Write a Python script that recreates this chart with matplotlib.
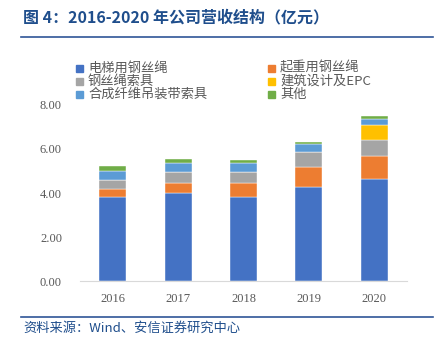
import matplotlib.pyplot as plt
import numpy as np

plt.rcParams['font.family'] = ['Noto Sans CJK SC', 'DejaVu Sans']

years = ['2016', '2017', '2018', '2019', '2020']
series_names = ['电梯用钢丝绳', '起重用钢丝绳', '钢丝绳索具', '建筑设计及EPC', '合成纤维吊装带索具', '其他']
elevator = [3.83, 4.01, 3.80, 4.29, 4.62]
lifting = [0.33, 0.43, 0.64, 0.91, 1.07]
rigging = [0.45, 0.52, 0.53, 0.68, 0.74]
epc = [0.00, 0.00, 0.00, 0.00, 0.65]
synthetic = [0.38, 0.42, 0.41, 0.33, 0.27]
other = [0.23, 0.17, 0.12, 0.11, 0.17]
colors = ['#4472C4', '#ED7D31', '#A5A5A5', '#FFC000', '#5B9BD5', '#70AD47']

fig = plt.figure(figsize=(4.41, 3.41), dpi=100)
ax = fig.add_axes([80 / 441, 60 / 341, 327 / 441, 176 / 341])

x = np.arange(len(years))
bottom = np.zeros(len(years))
bars = []
for name, vals, c in zip(series_names, [elevator, lifting, rigging, epc, synthetic, other], colors):
    b = ax.bar(x, vals, 0.41, bottom=bottom, color=c, label=name,
               edgecolor='white', linewidth=0.3)
    bars.append(b)
    bottom += np.array(vals)

ax.set_xlim(-0.5, 4.5)
ax.set_ylim(0, 8)
ax.set_yticks([0, 2, 4, 6, 8])
ax.set_yticklabels(['0.00', '2.00', '4.00', '6.00', '8.00'])
ax.set_xticks(x)
ax.set_xticklabels(years)
for lab in ax.get_xticklabels() + ax.get_yticklabels():
    lab.set_fontfamily('Liberation Serif')
    lab.set_fontsize(9)
    lab.set_color('#595959')
ax.tick_params(axis='y', length=0, pad=13)
ax.tick_params(axis='x', length=0, pad=9)
for s in ['top', 'right', 'left']:
    ax.spines[s].set_visible(False)
ax.spines['bottom'].set_color('#D9D9D9')

leg_x = [76, 268]
leg_y = [68, 81, 94]
for i, l in enumerate(series_names):
    col = i % 2
    row = i // 2
    fx = leg_x[col] / 441
    fy = 1 - leg_y[row] / 341
    fig.patches.append(plt.Rectangle((fx, fy - 3.5 / 341), 7 / 441, 7 / 341,
                                     transform=fig.transFigure, color=colors[i]))
    fig.text(fx + 12 / 441, fy, l, fontsize=9.5, color='#595959', va='center',
             family=['Noto Sans CJK SC', 'Liberation Serif'])

fig.text(23 / 441, 1 - 17 / 341, '图 4：2016-2020 年公司营收结构（亿元）',
         fontsize=11.5, fontweight='bold', color='#1F4E8C', va='center')
fig.add_artist(plt.Line2D([21 / 441, 433 / 441], [1 - 37 / 341, 1 - 37 / 341],
                          color='#2F5597', linewidth=1.2))
fig.add_artist(plt.Line2D([21 / 441, 433 / 441], [1 - 317 / 341, 1 - 317 / 341],
                          color='#2F5597', linewidth=1.2))
fig.text(23 / 441, 1 - 328 / 341, '资料来源：Wind、安信证券研究中心',
         fontsize=9.5, style='italic', color='#1F4E8C', va='center')

fig.savefig('out.png', dpi=100)
